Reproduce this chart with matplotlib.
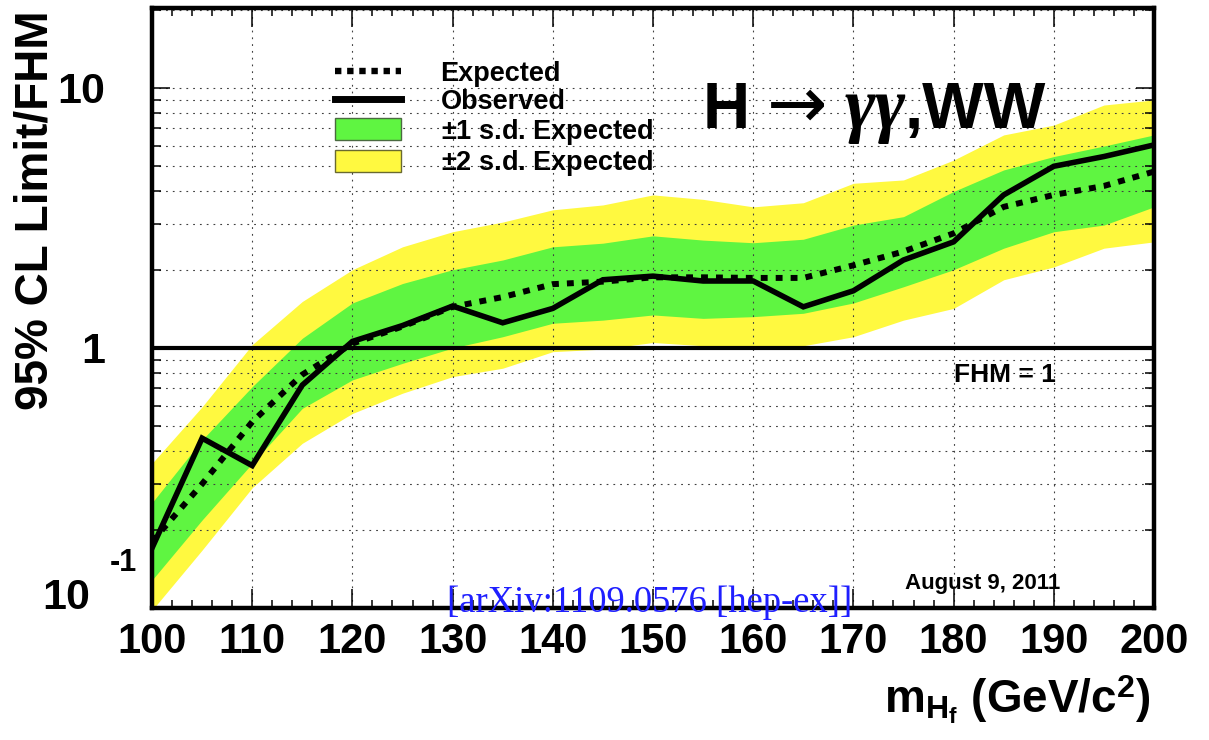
import matplotlib
matplotlib.use("Agg")
import matplotlib.pyplot as plt
from matplotlib.lines import Line2D
from matplotlib.patches import Patch
from matplotlib.ticker import FixedLocator, NullFormatter, LogLocator

plt.rcParams['font.family'] = ['Liberation Sans', 'DejaVu Sans']
plt.rcParams['font.weight'] = 'bold'
plt.rcParams['mathtext.fontset'] = 'custom'
plt.rcParams['mathtext.rm'] = 'Liberation Sans:bold'
plt.rcParams['mathtext.bf'] = 'Liberation Sans:bold'
plt.rcParams['mathtext.it'] = 'Liberation Serif:italic'

# ---------------- data ----------------
mass = [100, 105, 110, 115, 120, 125, 130, 135, 140, 145, 150,
        155, 160, 165, 170, 175, 180, 185, 190, 195, 200]
expected = [0.18, 0.30, 0.52, 0.79, 1.04, 1.21, 1.44, 1.57, 1.76, 1.80, 1.87,
            1.87, 1.86, 1.86, 2.08, 2.35, 2.76, 3.49, 3.88, 4.20, 4.77]
observed = [0.17, 0.45, 0.353, 0.72, 1.06, 1.22, 1.45, 1.25, 1.42, 1.83, 1.89,
            1.81, 1.81, 1.44, 1.66, 2.18, 2.56, 3.88, 5.00, 5.45, 6.04]
plus1 = [0.254, 0.443, 0.71, 1.09, 1.49, 1.77, 2.00, 2.18, 2.45, 2.53, 2.70,
         2.60, 2.54, 2.62, 2.97, 3.20, 4.00, 4.84, 5.45, 5.98, 6.60]
minus1 = [0.128, 0.218, 0.36, 0.586, 0.754, 0.873, 1.00, 1.105, 1.245, 1.28, 1.34,
          1.30, 1.32, 1.36, 1.49, 1.72, 2.00, 2.42, 2.80, 2.97, 3.49]
plus2 = [0.36, 0.594, 1.03, 1.51, 2.00, 2.45, 2.80, 3.05, 3.40, 3.55, 3.88,
         3.73, 3.49, 3.62, 4.30, 4.43, 5.28, 6.60, 7.20, 8.60, 9.00]
minus2 = [0.098, 0.167, 0.29, 0.43, 0.56, 0.67, 0.776, 0.836, 0.968, 0.99, 1.05,
          1.02, 1.01, 1.02, 1.105, 1.28, 1.42, 1.83, 2.05, 2.42, 2.56]
x_ticks = [100, 110, 120, 130, 140, 150, 160, 170, 180, 190, 200]
y_major = [1, 10]
y_major_labels = ['1', '10']

GREEN = '#5ff541'
YELLOW = '#fff940'

W, H = 1209, 740
fig = plt.figure(figsize=(W / 100, H / 100), dpi=100)
ax = fig.add_axes([152 / W, (H - 608) / H, (1154 - 152) / W, (608 - 8) / H])

ax.fill_between(mass, minus2, plus2, color=YELLOW, lw=0, zorder=1)
ax.fill_between(mass, minus1, plus1, color=GREEN, lw=0, zorder=1.1)

ax.set_yscale('log')
ax.set_xlim(100, 200)
ax.set_ylim(0.1, 10 ** (1 + 80 / 260))

# grid
ax.set_axisbelow(False)
ax.xaxis.set_major_locator(FixedLocator(x_ticks))
ax.xaxis.set_minor_locator(FixedLocator(list(range(100, 201, 2))))
ax.yaxis.set_major_locator(FixedLocator([0.1] + y_major))
ax.yaxis.set_minor_locator(LogLocator(base=10, subs=[2, 3, 4, 5, 6, 7, 8, 9], numticks=20))
ax.yaxis.set_minor_formatter(NullFormatter())
ax.set_yticklabels([''] + y_major_labels)
grid_kw = dict(color='0.25', lw=0.8, linestyle=(0, (1.6, 4.5)))
ax.grid(True, axis='x', which='major', **grid_kw)
ax.grid(True, axis='y', which='both', **grid_kw)

ax.axhline(1.0, color='black', lw=3, zorder=3)
ax.plot(mass, expected, color='black', lw=4.3, linestyle=(0, (1.15, 1.35)),
        dash_capstyle='butt', zorder=4)
ax.plot(mass, observed, color='black', lw=4.0, solid_joinstyle='miter', zorder=5)

# ticks and frame
for s in ax.spines.values():
    s.set_linewidth(3.2)
    s.set_zorder(10)
ax.tick_params(axis='x', which='major', direction='in', length=14, width=1.1,
               top=True, labelsize=30, pad=10)
ax.tick_params(axis='x', which='minor', direction='in', length=6, width=1.1, top=True)
ax.tick_params(axis='y', which='major', direction='in', length=13, width=1.1,
               right=True, labelsize=31, pad=34)
ax.tick_params(axis='y', which='minor', direction='in', length=6.5, width=1.1, right=True)
for lab in ax.get_xticklabels() + ax.get_yticklabels():
    lab.set_fontweight('bold')

# axis labels
fig.text(36 / W, 1 - 210 / H, '95% CL Limit/FHM', rotation=90, fontsize=33,
         fontweight='bold', ha='center', va='center')
fig.text(1150 / W, 1 - 700 / H, r'm$_{\mathrm{H_{f}}}$ (GeV/c$^{2}$)', fontsize=33,
         fontweight='bold', ha='right', va='center')
# 10^-1 label (ROOT style)
fig.text(66 / W, 1 - 598 / H, '10', fontsize=31, fontweight='bold', ha='center', va='center')
fig.text(123 / W, 1 - 563 / H, '-1', fontsize=22, fontweight='bold', ha='center', va='center')

# legend
handles = [
    Line2D([], [], color='black', lw=4.6, linestyle=(0, (1.0, 0.9)), dash_capstyle='butt'),
    Line2D([], [], color='black', lw=5.0),
    Patch(facecolor=GREEN, edgecolor='#4a6a40', lw=1.0),
    Patch(facecolor=YELLOW, edgecolor='#6a6a30', lw=1.0),
]
labels = ['Expected', 'Observed', r'$\pm$1 s.d. Expected', r'$\pm$2 s.d. Expected']
leg = fig.legend(handles, labels, loc='upper left',
                 bbox_to_anchor=(335 / W, 1 - 61 / H), frameon=False,
                 fontsize=19.5, handlelength=2.45, handleheight=0.85,
                 handletextpad=1.45, labelspacing=0.06, borderpad=0, borderaxespad=0)
for t in leg.get_texts():
    t.set_fontweight('bold')

# title pieces: H -> gamma gamma, WW
ty = 1 - 128 / H
fig.text(703 / W, ty, 'H', fontsize=47, fontweight='bold', ha='left', va='baseline')
fig.text(797 / W, 1 - 108 / H, '\u2192', fontsize=52, family='DejaVu Sans',
         fontweight='normal', ha='center', va='center')
fig.text(845 / W, ty, '\u03b3\u03b3', fontsize=53, family='Liberation Serif',
         fontweight='bold', style='italic', ha='left', va='baseline')
fig.text(905 / W, ty, ',WW', fontsize=47, fontweight='bold', ha='left', va='baseline')

fig.text(954 / W, 1 - 382 / H, 'FHM = 1', fontsize=19, fontweight='bold',
         ha='left', va='baseline')
fig.text(905 / W, 1 - 589 / H, 'August 9, 2011', fontsize=16, fontweight='bold',
         ha='left', va='baseline')
fig.text(447 / W, 1 - 612 / H, '[arXiv:1109.0576 [hep-ex]]', fontsize=26.4,
         family='Liberation Serif', fontweight='normal', color='#1f1fff',
         ha='left', va='baseline')

fig.savefig('out.png', dpi=100)
